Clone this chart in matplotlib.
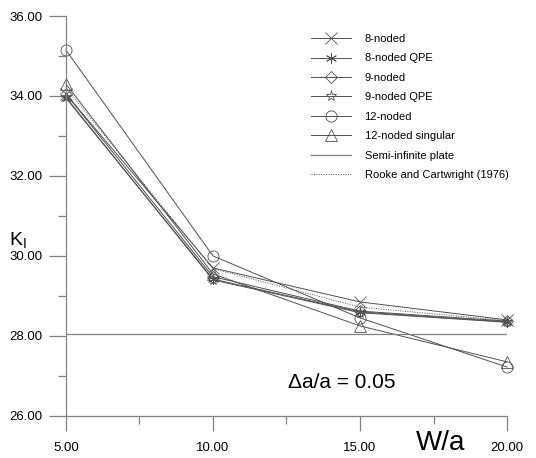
import matplotlib.pyplot as plt
from matplotlib.ticker import MultipleLocator, FormatStrFormatter

plt.rcParams['font.family'] = ['Liberation Sans', 'DejaVu Sans']

# W/a values and K_I results
wa = [5, 10, 15, 20]
k_8 = [34.05, 29.70, 28.85, 28.40]
k_8_qpe = [33.95, 29.42, 28.60, 28.35]
k_9 = [34.05, 29.48, 28.62, 28.37]
k_9_qpe = [33.97, 29.40, 28.58, 28.34]
k_12 = [35.15, 30.00, 28.45, 27.22]
k_12_sing = [34.30, 29.55, 28.25, 27.35]
k_rooke = [34.20, 29.68, 28.72, 28.38]
k_semi = 28.05

fig = plt.figure(figsize=(5.36, 4.58), dpi=100)
ax = fig.add_axes([0.123, 0.092, 0.823, 0.873])

lc = '#505050'
series = [
    (k_8, 'x', '8-noded'),
    (k_8_qpe, (6, 2, 0), '8-noded QPE'),
    (k_9, 'D', '9-noded'),
    (k_9_qpe, '*', '9-noded QPE'),
    (k_12, 'o', '12-noded'),
    (k_12_sing, '^', '12-noded singular'),
]
for vals, mk, lab in series:
    ms = 6 if mk == 'D' else 8
    ax.plot(wa, vals, color=lc, lw=0.7, marker=mk, ms=ms, mfc='none',
            mec=lc, mew=0.6, label=lab, clip_on=False)

ax.axhline(k_semi, color='#808080', lw=0.9, label='Semi-infinite plate')
ax.plot(wa, k_rooke, color=lc, lw=0.7, ls=(0, (1, 1.5)),
        label='Rooke and Cartwright (1976)')

ax.set_xlim(5, 20)
ax.set_ylim(26, 36)
for s in ['top', 'right']:
    ax.spines[s].set_visible(False)
for s in ['left', 'bottom']:
    ax.spines[s].set_color('#808080')
    ax.spines[s].set_linewidth(0.9)

ax.xaxis.set_major_locator(MultipleLocator(5))
ax.xaxis.set_minor_locator(MultipleLocator(2.5))
ax.yaxis.set_major_locator(MultipleLocator(2))
ax.yaxis.set_minor_locator(MultipleLocator(1))
ax.xaxis.set_major_formatter(FormatStrFormatter('%.2f'))
ax.yaxis.set_major_formatter(FormatStrFormatter('%.2f'))
ax.tick_params(axis='x', which='major', length=11, width=0.9, color='#808080',
               labelsize=9.5, pad=8)
ax.tick_params(axis='x', which='minor', length=6, width=0.9, color='#808080')
ax.tick_params(axis='y', which='major', length=12, width=0.9, color='#808080',
               labelsize=9.5, pad=5)
ax.tick_params(axis='y', which='minor', length=6, width=0.9, color='#808080')

fig.text(0.016, 0.475, r'K$_\mathregular{I}$', fontsize=14, ha='left', va='center')
fig.text(0.822, 0.032, 'W/a', fontsize=20, ha='center', va='center')
fig.text(0.637, 0.165, '\u0394a/a = 0.05', fontsize=15, ha='center', va='center')

ax.legend(loc='upper left', bbox_to_anchor=(0.556, 0.955), frameon=False,
          fontsize=8, handlelength=3.6, handletextpad=1.2, labelspacing=0.85,
          borderpad=0, borderaxespad=0)

fig.savefig('out.png', dpi=100)
